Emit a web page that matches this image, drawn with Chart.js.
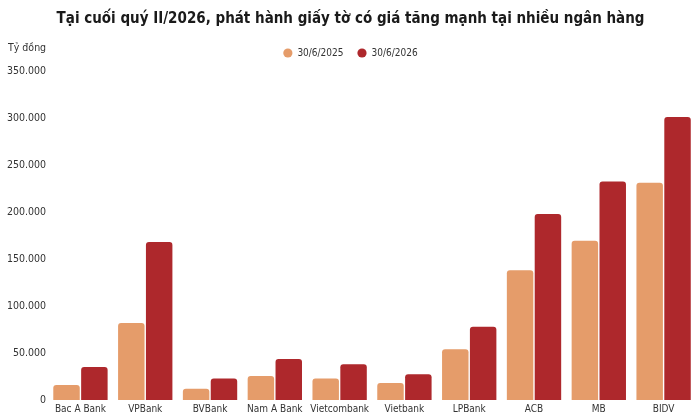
<!DOCTYPE html>
<html>
<head>
<meta charset="utf-8">
<script src="https://cdn.jsdelivr.net/npm/chart.js@4"></script>
<style>
  body { margin: 0; background: #fff; }
</style>
</head>
<body>
<canvas id="giayToCoGia" width="700" height="420"></canvas>
<script>
// dữ liệu (tỷ đồng)
const banks = ['Bac A Bank', 'VPBank', 'BVBank', 'Nam A Bank', 'Vietcombank', 'Vietbank', 'LPBank', 'ACB', 'MB', 'BIDV'];
const seriesLabels = ['30/6/2025', '30/6/2026'];
const values2025 = [16000, 82000, 12000, 25500, 23000, 18000, 54000, 138000, 169500, 231000];
const values2026 = [35000, 168000, 23000, 43500, 38000, 27500, 78000, 198000, 232500, 301000];
const yMax = 350000;
const yStep = 50000;
const unitLabel = 'Tỷ đồng';

const fontFamily = '"DejaVu Sans Condensed", "DejaVu Sans", sans-serif';

// ghi đơn vị phía trên trục tung
const unitPlugin = {
  id: 'unitLabel',
  afterDraw(chart) {
    const ctx = chart.ctx;
    ctx.save();
    ctx.font = '10.5px ' + fontFamily;
    ctx.fillStyle = '#333';
    ctx.textBaseline = 'middle';
    ctx.textAlign = 'left';
    ctx.fillText(unitLabel, 8, 48);
    ctx.restore();
  }
};

// thêm khoảng trống dưới chú thích
const legendGap = {
  id: 'legendGap',
  beforeInit(chart) {
    const fit = chart.legend.fit;
    chart.legend.fit = function () {
      fit.bind(chart.legend)();
      this.height += 3;
    };
  }
};

new Chart(document.getElementById('giayToCoGia'), {
  type: 'bar',
  data: {
    labels: banks,
    datasets: [
      {
        label: seriesLabels[0],
        data: values2025,
        backgroundColor: '#E59C6A',
        borderRadius: { topLeft: 3, topRight: 3 },
        borderSkipped: false,
        categoryPercentage: 0.86,
        barPercentage: 0.95
      },
      {
        label: seriesLabels[1],
        data: values2026,
        backgroundColor: '#AE282C',
        borderRadius: { topLeft: 3, topRight: 3 },
        borderSkipped: false,
        categoryPercentage: 0.86,
        barPercentage: 0.95
      }
    ]
  },
  options: {
    responsive: false,
    animation: false,
    layout: { padding: { left: 5, right: 4, top: 10, bottom: 2 } },
    plugins: {
      title: {
        display: true,
        text: 'Tại cuối quý II/2026, phát hành giấy tờ có giá tăng mạnh tại nhiều ngân hàng',
        color: '#1a1a1a',
        font: { family: fontFamily, size: 15, weight: 'bold' },
        padding: { top: 0, bottom: 6 }
      },
      legend: {
        position: 'top',
        labels: {
          usePointStyle: true,
          pointStyle: 'circle',
          boxWidth: 9,
          boxHeight: 6.5,
          padding: 14,
          color: '#333',
          font: { family: fontFamily, size: 10 }
        }
      },
      tooltip: { enabled: false }
    },
    scales: {
      x: {
        grid: { display: false, drawTicks: false },
        border: { display: false },
        ticks: {
          color: '#333',
          padding: 3,
          maxRotation: 0,
          autoSkip: false,
          font: { family: fontFamily, size: 10 }
        }
      },
      y: {
        min: 0,
        max: yMax,
        grid: { display: false, drawTicks: false },
        border: { display: false },
        ticks: {
          stepSize: yStep,
          color: '#333',
          padding: 2,
          font: { family: fontFamily, size: 10.5 },
          callback: v => v.toLocaleString('vi-VN')
        }
      }
    }
  },
  plugins: [unitPlugin, legendGap]
});
</script>
</body>
</html>
